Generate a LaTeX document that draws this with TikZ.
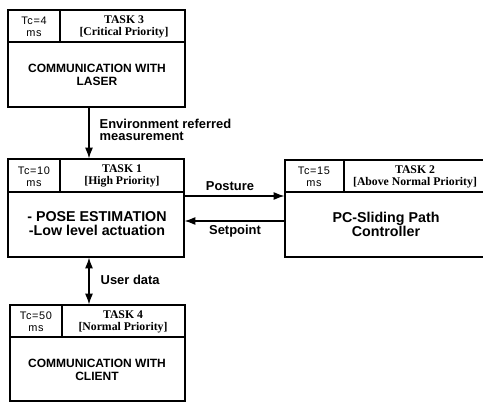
\documentclass[tikz,border=0pt]{standalone}
\usepackage{fontspec}
\setmainfont{Liberation Serif}
\setsansfont{Liberation Sans}
\newfontfamily\tcfont[LetterSpace=6]{Liberation Sans}
\usetikzlibrary{fit,arrows.meta}
\begin{document}
\begin{tikzpicture}[x=0.75pt,y=-0.75pt,
 box/.style={draw,line width=1.1pt,inner sep=0pt},
 div/.style={line width=1.1pt},
 conn/.style={line width=0.8pt,-{Latex[length=8pt,width=6pt]}},
 dconn/.style={line width=0.8pt,{Latex[length=8pt,width=6pt]}-{Latex[length=8pt,width=6pt]}},
 main/.style={font=\sffamily\bfseries\fontsize{9}{9.2}\selectfont,align=center},
 big/.style={font=\sffamily\bfseries\fontsize{10.7}{10.5}\selectfont,align=center},
 hdr/.style={font=\rmfamily\bfseries\fontsize{8.8}{8.5}\selectfont,align=center},
 tc/.style={font=\tcfont\fontsize{8.2}{8.8}\selectfont,align=center},
 lbl/.style={font=\sffamily\bfseries\fontsize{9.7}{8.6}\selectfont},
]
\useasboundingbox (0,0) rectangle (483,403);
\coordinate (ax) at (89,0);

% Task 3
\node[box,fit={(8,10)(185,107)}] (t3) {};
\draw[div] (8,42) -- (185,42);
\draw[div] (60,10) -- (60,42);
\node[tc] (t3tc) at (34,27) {Tc=4\\ms};
\node[hdr] (t3h) at (124,27) {TASK 3\\{[}Critical Priority{]}};
\node[main] (t3m) at (97,75) {COMMUNICATION WITH\\LASER};

% Task 1
\node[box,fit={(8,159)(184,257)}] (t1) {};
\draw[div] (8,192) -- (184,192);
\draw[div] (60,159) -- (60,192);
\node[tc] (t1tc) at (34,177) {Tc=10\\ms};
\node[hdr] (t1h) at (122,176) {TASK 1\\{[}High Priority{]}};
\node[big] (t1m) at (97,224) {- POSE ESTIMATION\\-Low level actuation};

% Task 2
\node[box,fit={(285,160)(488,257)}] (t2) {};
\draw[div] (285,192) -- (488,192);
\draw[div] (344,160) -- (344,192);
\node[tc] (t2tc) at (314,177) {Tc=15\\ms};
\node[hdr] (t2h) at (415,177) {TASK 2\\{[}Above Normal Priority{]}};
\node[big] (t2m) at (386,224) {PC-Sliding Path\\Controller};

% Task 4
\node[box,fit={(10,305)(185,401)}] (t4) {};
\draw[div] (10,337) -- (185,337);
\draw[div] (62,305) -- (62,337);
\node[tc] (t4tc) at (36,322) {Tc=50\\ms};
\node[hdr] (t4h) at (123,322) {TASK 4\\{[}Normal Priority{]}};
\node[main] (t4m) at (97,370) {COMMUNICATION WITH\\CLIENT};

% connectors
\draw[conn] (t3.south -| ax) -- (t1.north -| ax);
\draw[conn] (t1.east |- 0,196) -- (t2.west |- 0,196);
\draw[conn] (t2.west |- 0,221) -- (t1.east |- 0,221);
\draw[dconn] (t1.south -| ax) -- (t4.north -| ax);

% labels
\node[lbl,align=left,anchor=west] (lenv) at (95,130) {Environment referred\\measurement};
\node[lbl] (lpos) at (230,186) {Posture};
\node[lbl] (lset) at (235,231) {Setpoint};
\node[lbl,anchor=west] (lusr) at (96,280) {User data};
\end{tikzpicture}
\end{document}
